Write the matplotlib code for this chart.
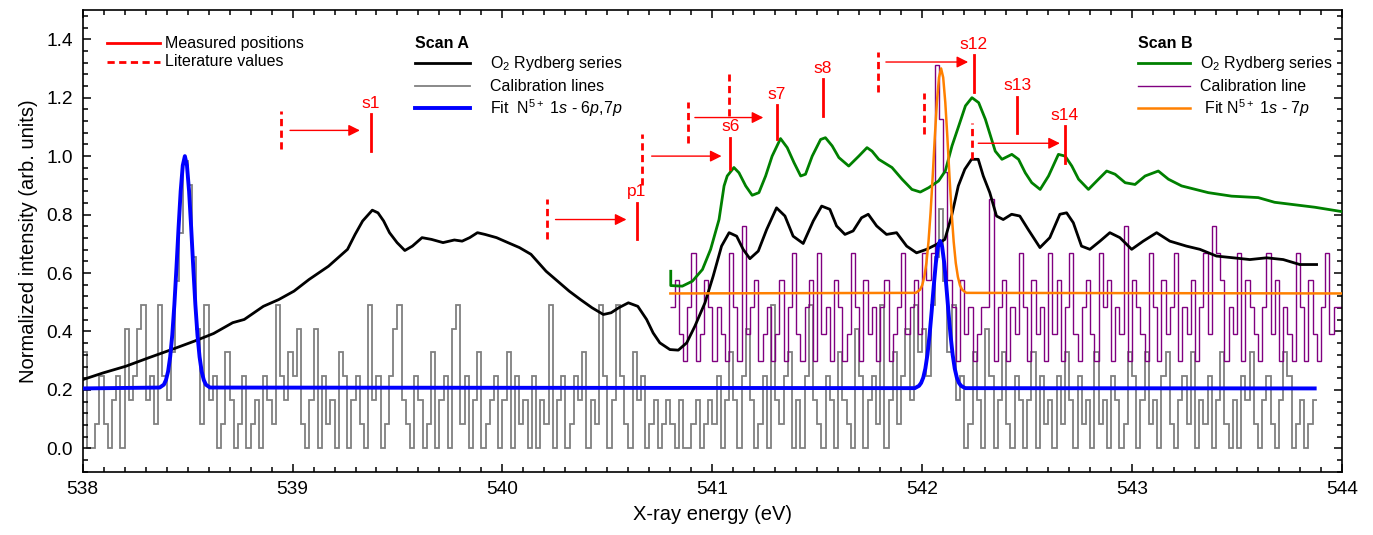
import numpy as np
import matplotlib
matplotlib.use("Agg")
import matplotlib.pyplot as plt
from matplotlib.ticker import MultipleLocator
from matplotlib.lines import Line2D

plt.rcParams['font.family'] = ['Liberation Sans', 'DejaVu Sans']
plt.rcParams['mathtext.fontset'] = 'custom'
plt.rcParams['mathtext.rm'] = 'Liberation Sans'
plt.rcParams['mathtext.it'] = 'Liberation Sans:italic'
plt.rcParams['mathtext.bf'] = 'Liberation Sans:bold'

# ---------------- data ----------------
# Scan A, O2 Rydberg series (black)
black_x = [538.000, 538.097, 538.206, 538.315, 538.424, 538.533, 538.624, 538.715, 538.770, 538.861,
           538.934, 539.007, 539.079, 539.171, 539.262, 539.298, 539.334, 539.380, 539.407, 539.434,
           539.462, 539.498, 539.535, 539.571, 539.617, 539.662, 539.717, 539.771, 539.808, 539.844,
           539.881, 539.917, 539.972, 540.026, 540.081, 540.136, 540.172, 540.208, 540.263, 540.318,
           540.372, 540.427, 540.481, 540.518, 540.554, 540.600, 540.645, 540.687, 540.718, 540.750,
           540.798, 540.838, 540.878, 540.917, 540.965, 541.004, 541.044, 541.080, 541.116, 541.147,
           541.179, 541.219, 541.259, 541.306, 541.346, 541.385, 541.433, 541.481, 541.521, 541.560,
           541.592, 541.632, 541.671, 541.711, 541.743, 541.783, 541.830, 541.878, 541.926, 541.973,
           542.021, 542.069, 542.108, 542.140, 542.172, 542.203, 542.235, 542.267, 542.291, 542.322,
           542.354, 542.386, 542.426, 542.465, 542.505, 542.561, 542.608, 542.656, 542.688, 542.720,
           542.759, 542.799, 542.847, 542.894, 542.942, 542.998, 543.053, 543.117, 543.180, 543.259,
           543.323, 543.402, 543.482, 543.561, 543.641, 543.720, 543.799, 543.879]
black_y = [0.235, 0.258, 0.281, 0.310, 0.338, 0.367, 0.393, 0.430, 0.441, 0.486,
           0.509, 0.538, 0.578, 0.623, 0.681, 0.732, 0.778, 0.815, 0.806, 0.778,
           0.738, 0.704, 0.677, 0.692, 0.721, 0.715, 0.704, 0.713, 0.709, 0.721,
           0.738, 0.732, 0.721, 0.704, 0.687, 0.664, 0.635, 0.606, 0.572, 0.538,
           0.509, 0.481, 0.458, 0.464, 0.481, 0.498, 0.486, 0.441, 0.395, 0.361,
           0.338, 0.336, 0.361, 0.418, 0.498, 0.589, 0.692, 0.738, 0.726, 0.681,
           0.649, 0.675, 0.749, 0.823, 0.795, 0.726, 0.701, 0.778, 0.829, 0.818,
           0.761, 0.732, 0.744, 0.789, 0.801, 0.761, 0.732, 0.738, 0.692, 0.669,
           0.681, 0.698, 0.715, 0.795, 0.898, 0.955, 0.989, 0.989, 0.932, 0.875,
           0.795, 0.783, 0.801, 0.795, 0.749, 0.687, 0.721, 0.801, 0.806, 0.772,
           0.692, 0.681, 0.709, 0.738, 0.721, 0.681, 0.709, 0.738, 0.709, 0.692,
           0.681, 0.658, 0.652, 0.646, 0.652, 0.646, 0.629, 0.629]

# Scan B, O2 Rydberg series (green)
green_x = [540.802, 540.802, 540.857, 540.905, 540.953, 540.992, 541.032, 541.056, 541.071, 541.103,
           541.127, 541.159, 541.190, 541.222, 541.254, 541.285, 541.325, 541.357, 541.389, 541.421,
           541.444, 541.476, 541.516, 541.539, 541.571, 541.603, 541.650, 541.698, 541.737, 541.761,
           541.793, 541.856, 541.904, 541.951, 541.991, 542.031, 542.078, 542.110, 542.142, 542.174,
           542.206, 542.237, 542.269, 542.301, 542.348, 542.380, 542.427, 542.459, 542.491, 542.522,
           542.562, 542.602, 542.649, 542.681, 542.713, 542.745, 542.792, 542.840, 542.879, 542.919,
           542.967, 543.014, 543.062, 543.125, 543.173, 543.236, 543.363, 543.474, 543.601, 543.679,
           543.871, 544.000]
green_y = [0.606, 0.557, 0.555, 0.572, 0.612, 0.681, 0.783, 0.898, 0.932, 0.961,
           0.943, 0.898, 0.866, 0.875, 0.932, 1.000, 1.060, 1.029, 0.978, 0.932,
           0.938, 1.000, 1.057, 1.063, 1.035, 0.995, 0.966, 1.000, 1.029, 1.017,
           0.989, 0.961, 0.921, 0.886, 0.877, 0.892, 0.915, 0.949, 1.035, 1.103,
           1.172, 1.200, 1.183, 1.126, 1.017, 0.989, 1.006, 0.989, 0.943, 0.909,
           0.886, 0.932, 1.006, 1.000, 0.966, 0.921, 0.886, 0.921, 0.949, 0.938,
           0.909, 0.903, 0.932, 0.949, 0.921, 0.898, 0.875, 0.863, 0.858, 0.842,
           0.825, 0.810]

# Scan A calibration lines (gray): counts per bin
gray_start, gray_bin, gray_unit = 538.0, 0.02, 0.082
gray_counts = [4, 0, 0, 1, 3, 1, 0, 2, 3, 0, 5, 2, 3, 5, 6, 2, 3, 1, 6, 3, 2, 4, 7, 9, 12,
               11, 8, 5, 1, 6, 2, 3, 0, 1, 4, 2, 0, 1, 3, 0, 1, 2, 0, 3, 2, 1, 6, 3, 2, 4,
               3, 5, 1, 0, 2, 5, 0, 3, 1, 2, 0, 4, 3, 0, 2, 3, 1, 0, 6, 2, 3, 0, 1, 3, 5,
               6, 2, 1, 0, 3, 2, 0, 1, 4, 0, 2, 3, 0, 5, 6, 1, 3, 0, 2, 4, 0, 1, 2, 3, 0,
               2, 4, 0, 3, 1, 2, 0, 3, 0, 2, 1, 6, 0, 2, 3, 0, 1, 3, 2, 4, 0, 2, 1, 6, 3,
               0, 2, 6, 3, 1, 0, 4, 2, 3, 0, 1, 2, 0, 1, 2, 1, 0, 2, 0, 0, 1, 2, 0, 1, 2,
               1, 3, 0, 2, 4, 2, 0, 3, 5, 2, 0, 1, 3, 0, 6, 2, 1, 3, 4, 0, 2, 0, 3, 6, 2,
               1, 0, 3, 2, 0, 4, 2, 1, 0, 5, 3, 0, 2, 3, 1, 6, 0, 2, 4, 1, 3, 5, 2, 6, 4,
               5, 3, 6, 8, 10, 7, 4, 6, 2, 3, 0, 1, 4, 2, 0, 5, 3, 0, 2, 4, 1, 0, 3, 2, 0,
               2, 4, 0, 3, 1, 2, 0, 3, 1, 4, 2, 0, 3, 1, 2, 0, 4, 1, 2, 0, 3, 2, 0, 1, 4,
               3, 0, 2, 4, 1, 2, 0, 3, 4, 1, 0, 2, 3, 1, 4, 0, 2, 1, 3, 0, 2, 4, 1, 0, 2,
               0, 3, 2, 4, 1, 0, 2, 3, 1, 0, 2, 4, 3, 0, 1, 2, 0, 1, 2]

# Scan B calibration line (purple): counts per bin above offset
purple_start, purple_bin, purple_base, purple_unit = 540.8, 0.02, 0.30, 0.092
purple_counts = [2, 3, 1, 0, 2, 4, 0, 1, 3, 2, 0, 2, 1, 0, 4, 2, 0, 5, 1, 2, 3, 0, 1, 2, 0,
                 1, 3, 0, 2, 4, 1, 0, 2, 3, 0, 4, 1, 2, 0, 3, 2, 0, 1, 4, 2, 0, 3, 1, 2, 0,
                 2, 3, 0, 1, 2, 4, 1, 2, 3, 1, 4, 3, 4, 11, 9, 7, 3, 2, 0, 3, 1, 2, 0, 1, 2,
                 2, 6, 0, 2, 3, 0, 2, 1, 4, 2, 0, 3, 1, 2, 0, 4, 1, 3, 0, 2, 4, 1, 0, 2, 3,
                 1, 0, 4, 2, 3, 0, 2, 1, 5, 0, 3, 2, 1, 0, 4, 2, 0, 3, 1, 2, 4, 0, 2, 1, 3,
                 0, 2, 4, 1, 5, 4, 3, 0, 2, 1, 4, 0, 3, 2, 1, 0, 2, 4, 1, 3, 0, 2, 1, 0, 4,
                 2, 0, 3, 1, 0, 2, 4, 1, 2, 2]

# Fit N5+ 1s-6p,7p (blue)
blue_x = [538.000, 538.367, 538.387, 538.397, 538.407, 538.417, 538.427, 538.437, 538.447, 538.457,
          538.467, 538.477, 538.487, 538.497, 538.507, 538.517, 538.527, 538.537, 538.547, 538.557,
          538.567, 538.577, 538.587, 538.607,
          541.965, 541.985, 541.995, 542.005, 542.015, 542.025, 542.035, 542.045, 542.055, 542.065,
          542.075, 542.085, 542.095, 542.105, 542.115, 542.125, 542.135, 542.145, 542.155, 542.165,
          542.175, 542.185, 542.205, 543.870]
blue_y = [0.205, 0.208, 0.218, 0.234, 0.263, 0.313, 0.388, 0.492, 0.619, 0.756,
          0.880, 0.968, 1.000, 0.968, 0.880, 0.756, 0.619, 0.492, 0.388, 0.313,
          0.263, 0.234, 0.218, 0.208,
          0.206, 0.214, 0.224, 0.242, 0.273, 0.321, 0.387, 0.468, 0.555, 0.634,
          0.690, 0.710, 0.690, 0.634, 0.555, 0.468, 0.387, 0.321, 0.273, 0.242,
          0.224, 0.214, 0.206, 0.205]

# Fit N5+ 1s-7p (orange)
orange_x = [540.800, 541.970, 541.990, 542.000, 542.010, 542.020, 542.030, 542.040, 542.050, 542.060,
            542.070, 542.080, 542.090, 542.100, 542.110, 542.120, 542.130, 542.140, 542.150, 542.160,
            542.170, 542.180, 542.190, 542.210, 544.000]
orange_y = [0.530, 0.532, 0.543, 0.558, 0.587, 0.634, 0.707, 0.808, 0.930, 1.064,
            1.184, 1.269, 1.300, 1.269, 1.184, 1.064, 0.930, 0.808, 0.707, 0.634,
            0.587, 0.558, 0.543, 0.532, 0.530]

# Measured positions (solid red) and literature values (dashed red)
meas_x = [539.373, 540.640, 541.086, 541.309, 541.525, 542.246, 542.454, 542.680]
meas_y0 = [1.016, 0.717, 0.957, 1.058, 1.137, 1.218, 1.078, 0.978]
meas_y1 = [1.143, 0.841, 1.063, 1.174, 1.263, 1.345, 1.204, 1.103]
meas_labels = ['s1', 'p1', 's6', 's7', 's8', 's12', 's13', 's14']

lit_x = [538.943, 540.211, 540.663, 540.882, 541.081, 541.790, 542.010, 542.238]
lit_y0 = [1.023, 0.717, 0.900, 1.046, 1.137, 1.218, 1.075, 0.989]
lit_y1 = [1.153, 0.854, 1.074, 1.185, 1.280, 1.355, 1.215, 1.115]

arr_x0 = [538.988, 540.253, 540.711, 540.917, 541.827, 542.267]
arr_x1 = [539.321, 540.591, 541.044, 541.243, 542.219, 542.656]
arr_y = [1.088, 0.783, 1.000, 1.132, 1.322, 1.044]

# ---------------- figure ----------------
fig = plt.figure(figsize=(13.73, 5.35), dpi=100)
ax = fig.add_axes([0.0602, 0.1183, 0.9172, 0.863])

RED = '#ff0000'

gray_edges = gray_start + gray_bin * np.arange(len(gray_counts) + 1)
ax.stairs(np.array(gray_counts) * gray_unit, gray_edges, baseline=None,
          color='#808080', lw=1.3, zorder=1)

purple_edges = purple_start + purple_bin * np.arange(len(purple_counts) + 1)
ax.stairs(purple_base + np.array(purple_counts) * purple_unit, purple_edges, baseline=None,
          color='#800080', lw=1.0, zorder=2)

ax.plot(black_x, black_y, color='black', lw=2.0, zorder=3)
ax.plot(green_x, green_y, color='#008000', lw=2.0, zorder=3)
ax.plot(orange_x, orange_y, color='#ff8000', lw=1.8, zorder=4)
ax.plot(blue_x, blue_y, color='#0000ff', lw=2.8, zorder=5)

for x, y0, y1, lab in zip(meas_x, meas_y0, meas_y1, meas_labels):
    ax.plot([x, x], [y0, y1], color=RED, lw=2.0, zorder=6)
    ax.text(x, y1 + 0.012, lab, color=RED, fontsize=12.5, ha='center', va='bottom', zorder=6)
for x, y0, y1 in zip(lit_x, lit_y0, lit_y1):
    ax.plot([x, x], [y0, y1], color=RED, lw=2.0, ls=(0, (2.6, 1.6)), zorder=6)
for x0, x1, y in zip(arr_x0, arr_x1, arr_y):
    ax.annotate('', xy=(x1, y), xytext=(x0, y),
                arrowprops=dict(arrowstyle='-|>', color=RED, lw=1.0,
                                mutation_scale=17, shrinkA=0, shrinkB=0), zorder=6)

ax.set_xlim(538, 544)
ax.set_ylim(-0.08, 1.5)
ax.xaxis.set_major_locator(MultipleLocator(1))
ax.xaxis.set_minor_locator(MultipleLocator(0.1))
ax.yaxis.set_major_locator(MultipleLocator(0.2))
ax.yaxis.set_minor_locator(MultipleLocator(0.04))
ax.yaxis.set_major_formatter(matplotlib.ticker.FormatStrFormatter('%.1f'))
ax.tick_params(which='both', direction='in', top=True, right=True, width=1.1)
ax.tick_params(which='major', length=6, labelsize=13.8, pad=7)
ax.tick_params(which='minor', length=3.5)
for s in ax.spines.values():
    s.set_linewidth(1.2)

ax.set_xlabel('X-ray energy (eV)', fontsize=14.5, labelpad=5)
ax.set_ylabel('Normalized intensity (arb. units)', fontsize=14.5, labelpad=6)

# ---------------- legends (drawn in axes coords) ----------------
T = ax.transAxes
def handle(x0, x1, y, **kw):
    ax.add_line(Line2D([x0, x1], [y, y], transform=T, **kw))

LF = 11.5
# left legend
handle(0.0193, 0.0615, 0.9285, color=RED, lw=2.0)
ax.text(0.0653, 0.9285, 'Measured positions', transform=T, fontsize=LF, va='center')
handle(0.0193, 0.0615, 0.8874, color=RED, lw=2.0, ls=(0, (2.6, 1.6)))
ax.text(0.0653, 0.8874, 'Literature values', transform=T, fontsize=LF, va='center')

# Scan A
xa0, xa1, xat = 0.2639, 0.3076, 0.3234
ax.text(xa0, 0.9285, 'Scan A', transform=T, fontsize=LF, fontweight='bold', va='center')
handle(xa0, xa1, 0.8852, color='black', lw=2.0)
ax.text(xat, 0.8852, 'O$_2$ Rydberg series', transform=T, fontsize=LF, va='center')
handle(xa0, xa1, 0.8354, color='#808080', lw=1.3)
ax.text(xat, 0.8354, 'Calibration lines', transform=T, fontsize=LF, va='center')
handle(xa0, xa1, 0.7877, color='#0000ff', lw=2.8)
ax.text(xat, 0.7877, r'Fit  N$^{5+}$ 1$\it{s}$ - 6$\it{p}$,7$\it{p}$', transform=T, fontsize=LF, va='center')

# Scan B
xb0, xb1, xbt = 0.8380, 0.8794, 0.8873
ax.text(xb0, 0.9285, 'Scan B', transform=T, fontsize=LF, fontweight='bold', va='center')
handle(xb0, xb1, 0.8852, color='#008000', lw=2.0)
ax.text(xbt, 0.8852, 'O$_2$ Rydberg series', transform=T, fontsize=LF, va='center')
handle(xb0, xb1, 0.8354, color='#800080', lw=1.0)
ax.text(xbt, 0.8354, 'Calibration line', transform=T, fontsize=LF, va='center')
handle(xb0, xb1, 0.7877, color='#ff8000', lw=1.8)
ax.text(xbt, 0.7877, r' Fit N$^{5+}$ 1$\it{s}$ - 7$\it{p}$', transform=T, fontsize=LF, va='center')

fig.savefig('out.png', dpi=100)
